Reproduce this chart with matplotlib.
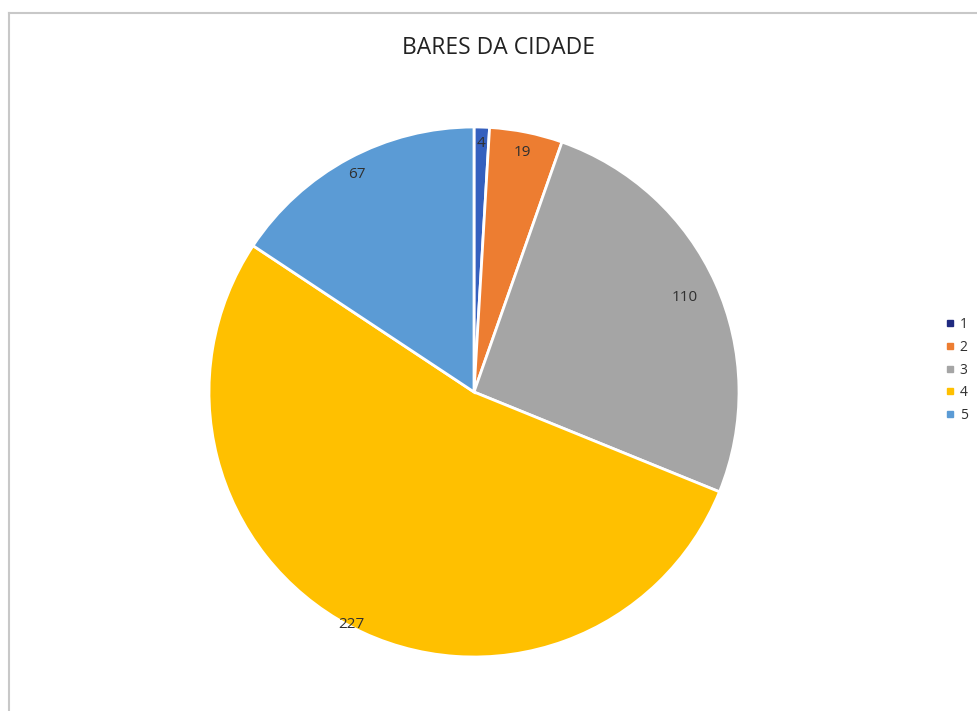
import numpy as np
import matplotlib.pyplot as plt
from matplotlib.lines import Line2D

categories = ["1", "2", "3", "4", "5"]
values = [4, 19, 110, 227, 67]
colors = ["#3560BE", "#ED7D31", "#A5A5A5", "#FFC000", "#5B9BD5"]
label_r = [0.94, 0.92, 0.87, 0.99, 0.93]

fig = plt.figure(figsize=(9.77, 7.11), dpi=100)
plt.rcParams['font.family'] = ['Open Sans', 'DejaVu Sans']

ax = fig.add_axes([209 / 977, 54 / 711, 530 / 977, 530 / 711])
wedges, _ = ax.pie(values, colors=colors, startangle=90, counterclock=False,
                   radius=1, wedgeprops=dict(edgecolor="white", linewidth=2))
ax.set_xlim(-1, 1)
ax.set_ylim(-1, 1)
ax.set_aspect("auto")
ax.axis("off")

# labels near the inner end of each slice
for w, v, r in zip(wedges, values, label_r):
    mid = np.deg2rad((w.theta1 + w.theta2) / 2)
    ax.text(r * np.cos(mid), r * np.sin(mid), str(v), ha="center", va="center",
            fontsize=11, color="#303030")

fig.text(499 / 977, 1 - 48 / 711, "BARES DA CIDADE", ha="center", va="center",
         fontsize=16.5, color="#222222")

handles = [Line2D([], [], marker="s", linestyle="none", markersize=5,
                  markerfacecolor=c, markeredgecolor=c) for c in colors]
handles[0].set_markerfacecolor("#1F2A80")
handles[0].set_markeredgecolor("#1F2A80")
fig.legend(handles, categories, loc="center left", bbox_to_anchor=(932 / 977, 1 - 370 / 711),
           frameon=False, fontsize=10, handlelength=0.8, handletextpad=0.3,
           labelspacing=0.55, labelcolor="#303030")

# chart area border (top and left edges only visible)
fig.add_artist(Line2D([9 / 977, 9 / 977], [0, 1 - 13 / 711], color="#C8C8C8", linewidth=1.5,
                      transform=fig.transFigure))
fig.add_artist(Line2D([9 / 977, 1], [1 - 13 / 711, 1 - 13 / 711], color="#C8C8C8", linewidth=1.5,
                      transform=fig.transFigure))

fig.savefig("out.png", dpi=100)
